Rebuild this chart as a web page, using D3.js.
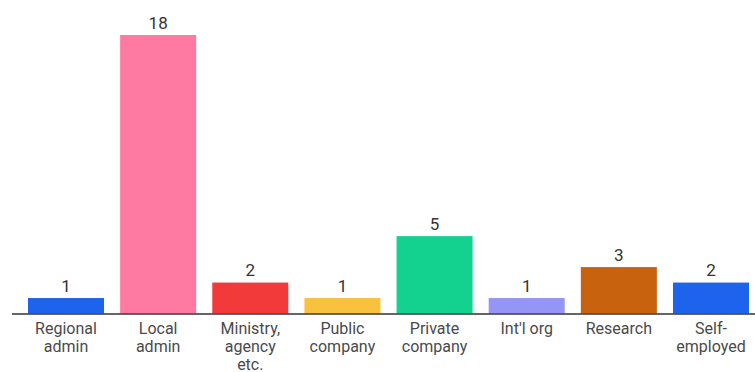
<!DOCTYPE html>
<html>
<head>
<meta charset="utf-8">
<script src="https://cdn.jsdelivr.net/npm/d3@7"></script>
<style>
  html, body { margin: 0; padding: 0; background: #fff; }
  svg { display: block; font-family: Roboto, "Open Sans", sans-serif; }
</style>
</head>
<body>
<svg id="chart" width="755" height="372"></svg>
<script>
const categories = [
  ["Regional", "admin"],
  ["Local", "admin"],
  ["Ministry,", "agency", "etc."],
  ["Public", "company"],
  ["Private", "company"],
  ["Int'l org"],
  ["Research"],
  ["Self-", "employed"]
];
const values = [1, 18, 2, 1, 5, 1, 3, 2];
const colors = ["#1d63ec", "#ff7aa3", "#f23a3a", "#f8c23e", "#13d28f", "#9595f5", "#c9620f", "#1d63ec"];

const svg = d3.select("#chart");
const baseY = 313.5, topY = 35;

const x = d3.scaleBand()
  .domain(d3.range(values.length))
  .range([28, 749])
  .paddingInner(0.175)
  .paddingOuter(0);

const y = d3.scaleLinear().domain([0, 18]).range([baseY, topY]);

svg.selectAll(".bar")
  .data(values)
  .enter().append("rect")
  .attr("class", "bar")
  .attr("x", (d, i) => x(i))
  .attr("y", d => y(d))
  .attr("width", x.bandwidth())
  .attr("height", d => baseY - y(d))
  .attr("fill", (d, i) => colors[i]);

svg.selectAll(".val")
  .data(values)
  .enter().append("text")
  .attr("class", "val")
  .attr("x", (d, i) => x(i) + x.bandwidth() / 2)
  .attr("y", d => y(d) - 6.5)
  .attr("text-anchor", "middle")
  .attr("font-size", 17)
  .attr("fill", "#333")
  .text(d => d);

// baseline
svg.append("line")
  .attr("x1", 12).attr("x2", 755)
  .attr("y1", baseY + 0.5).attr("y2", baseY + 0.5)
  .attr("stroke", "#333")
  .attr("stroke-width", 1.5);

const labels = svg.selectAll(".cat")
  .data(categories)
  .enter().append("text")
  .attr("class", "cat")
  .attr("text-anchor", "middle")
  .attr("font-size", 16)
  .attr("fill", "#4a4a4a");

labels.selectAll("tspan")
  .data((d, i) => d.map(t => ({ t, i })))
  .enter().append("tspan")
  .attr("x", d => x(d.i) + x.bandwidth() / 2)
  .attr("y", (d, j) => 333.5 + j * 18)
  .text(d => d.t);
</script>
</body>
</html>
